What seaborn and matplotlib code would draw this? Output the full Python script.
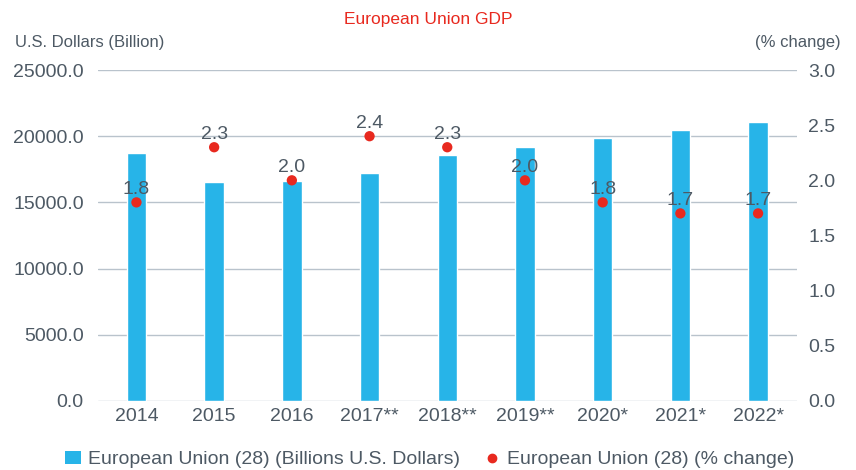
import matplotlib
matplotlib.use("Agg")
import matplotlib.pyplot as plt
import seaborn as sns
import pandas as pd
from matplotlib.lines import Line2D
from matplotlib.patches import Patch

years = ["2014", "2015", "2016", "2017**", "2018**", "2019**", "2020*", "2021*", "2022*"]
gdp = [18700, 16550, 16650, 17250, 18550, 19200, 19900, 20450, 21100]
pct = [1.8, 2.3, 2.0, 2.4, 2.3, 2.0, 1.8, 1.7, 1.7]
left_ticks = [0, 5000, 10000, 15000, 20000, 25000]
right_ticks = [0.0, 0.5, 1.0, 1.5, 2.0, 2.5, 3.0]

sns.set_theme(style="white")
plt.rcParams['font.family'] = ['Liberation Sans', 'DejaVu Sans']

BAR = "#27b4e8"
DOT = "#e8291f"
TXT = "#4d5964"
GRID = "#b9c3cc"

df = pd.DataFrame({"year": years, "gdp": gdp, "pct": pct})

fig = plt.figure(figsize=(8.56, 4.70), dpi=100)
ax = fig.add_axes([0.114, 0.147, 0.817, 0.704])
sns.barplot(data=df, x="year", y="gdp", color=BAR, width=0.25, ax=ax, saturation=1)
ax.set_ylim(0, 25000)
ax.set_yticks(left_ticks)
ax.set_yticklabels([f"{v:.1f}" for v in left_ticks], fontsize=14, color=TXT)
ax.yaxis.grid(True, color=GRID, linewidth=1)
ax.set_axisbelow(True)
for s in ax.spines.values():
    s.set_visible(False)
ax.tick_params(axis="x", length=0, pad=5)
ax.tick_params(axis="y", length=0, pad=10)
ax.set_xlabel("")
ax.set_ylabel("")
for lbl in ax.get_xticklabels():
    lbl.set_fontsize(14)
    lbl.set_color(TXT)
ax.set_xlim(-0.5, len(years) - 0.5)

ax2 = ax.twinx()
sns.scatterplot(data=df, x="year", y="pct", color=DOT, s=55, edgecolor="none", ax=ax2, zorder=5)
ax2.set_ylim(0, 3.0)
ax2.set_yticks(right_ticks)
ax2.set_yticklabels([f"{v:.1f}" for v in right_ticks], fontsize=14, color=TXT)
ax2.tick_params(axis="y", length=0, pad=8)
ax2.set_ylabel("")
ax2.grid(False)
for s in ax2.spines.values():
    s.set_visible(False)
for i, v in enumerate(pct):
    ax2.annotate(f"{v:.1f}", (i, v), xytext=(0, 3), textcoords="offset points",
                 ha="center", va="bottom", fontsize=14, color=TXT, zorder=6)

fig.text(0.5, 0.958, "European Union GDP", ha="center", va="center", fontsize=12.5, color="#e8291f")
fig.text(0.017, 0.91, "U.S. Dollars (Billion)", ha="left", va="center", fontsize=12, color=TXT)
fig.text(0.982, 0.91, "(% change)", ha="right", va="center", fontsize=12, color=TXT)

handles = [Patch(facecolor=BAR, edgecolor="none"),
           Line2D([0], [0], marker="o", linestyle="none", color=DOT, markersize=6)]
labels = ["European Union (28) (Billions U.S. Dollars)", "European Union (28) (% change)"]
leg = fig.legend(handles, labels, loc="center", bbox_to_anchor=(0.502, 0.022), ncol=2, frameon=False,
                 fontsize=14, handlelength=0.8, handletextpad=0.4, columnspacing=1.2)
for t in leg.get_texts():
    t.set_color(TXT)

fig.savefig("out.png", dpi=100)
